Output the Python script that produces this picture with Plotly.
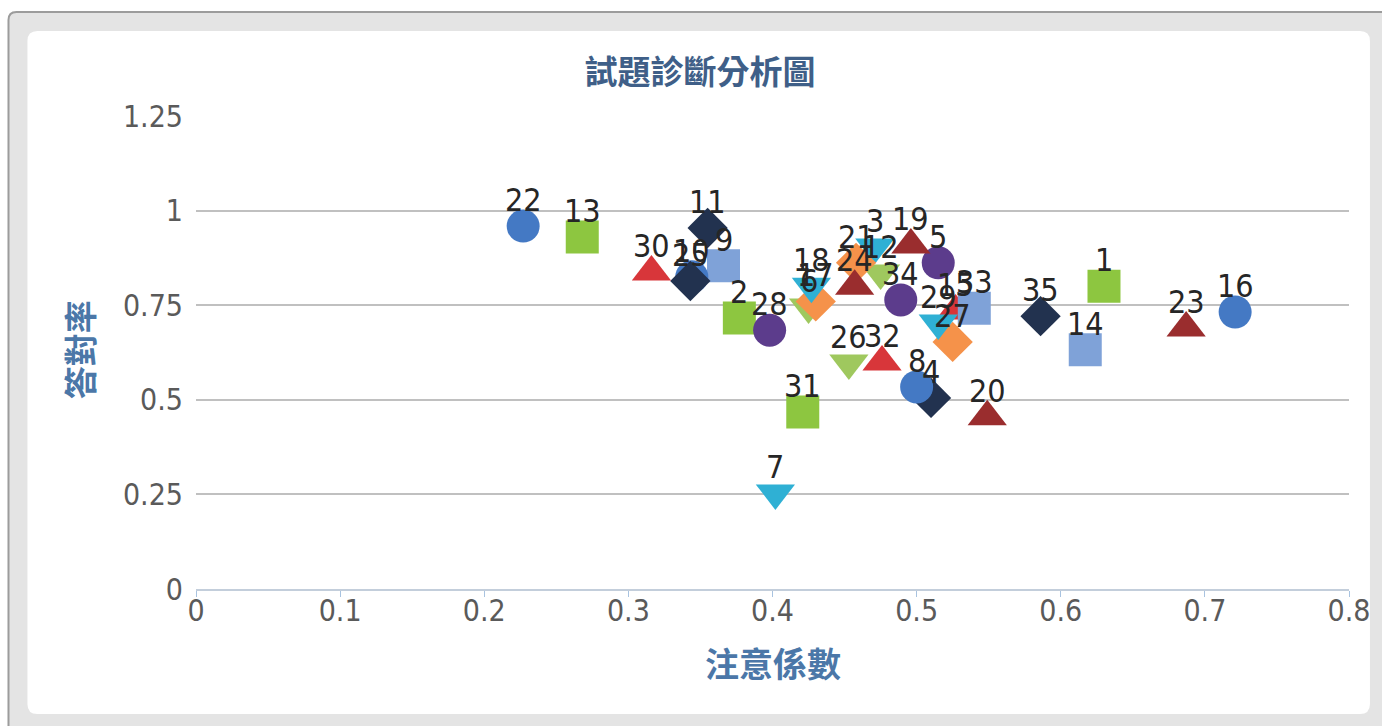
import plotly.graph_objects as go

# ---- data ----
item_no = [1, 2, 3, 4, 5, 6, 7, 8, 9, 10, 11, 12, 13, 14, 15, 16, 17, 18,
           19, 20, 21, 22, 23, 24, 25, 26, 27, 28, 29, 30, 31, 32, 33, 34, 35]
attention = [0.630, 0.377, 0.471, 0.510, 0.515, 0.425, 0.402, 0.500, 0.366, 0.344,
             0.355, 0.475, 0.268, 0.617, 0.527, 0.721, 0.430, 0.427, 0.496, 0.549,
             0.458, 0.227, 0.687, 0.457, 0.343, 0.453, 0.525, 0.398, 0.515, 0.316,
             0.421, 0.476, 0.540, 0.489, 0.586]
correct = [0.800, 0.716, 0.904, 0.505, 0.862, 0.745, 0.254, 0.534, 0.854, 0.825,
           0.954, 0.835, 0.930, 0.632, 0.735, 0.732, 0.760, 0.800, 0.909, 0.455,
           0.862, 0.959, 0.690, 0.800, 0.814, 0.597, 0.653, 0.684, 0.703, 0.838,
           0.468, 0.600, 0.742, 0.764, 0.721]
styles = {
    "blue_circle": ("circle", "#4479C4"),
    "lblue_square": ("square", "#7FA2D8"),
    "green_square": ("square", "#8DC640"),
    "red_tri": ("triangle-up", "#D8363A"),
    "dred_tri": ("triangle-up", "#9A2D2E"),
    "purple_circle": ("circle", "#5C3C8C"),
    "cyan_tri": ("triangle-down", "#2FB0D4"),
    "orange_diamond": ("diamond", "#F5924A"),
    "navy_diamond": ("diamond", "#22324F"),
    "lgreen_tri": ("triangle-down", "#9FC85E"),
}
item_style = ["green_square", "green_square", "cyan_tri", "navy_diamond", "purple_circle",
              "lgreen_tri", "cyan_tri", "blue_circle", "lblue_square", "blue_circle",
              "navy_diamond", "lgreen_tri", "green_square", "lblue_square", "red_tri",
              "blue_circle", "orange_diamond", "cyan_tri", "dred_tri", "dred_tri",
              "orange_diamond", "blue_circle", "dred_tri", "dred_tri", "navy_diamond",
              "lgreen_tri", "orange_diamond", "purple_circle", "cyan_tri", "red_tri",
              "green_square", "red_tri", "lblue_square", "purple_circle", "navy_diamond"]
x_ticks = [0, 0.1, 0.2, 0.3, 0.4, 0.5, 0.6, 0.7, 0.8]
x_tick_text = ["0", "0.1", "0.2", "0.3", "0.4", "0.5", "0.6", "0.7", "0.8"]
y_ticks = [0, 0.25, 0.5, 0.75, 1, 1.25]
y_tick_text = ["0", "0.25", "0.5", "0.75", "1", "1.25"]

W, H = 1382, 726
L, R, T, B = 196, 1352, 116, 589

def px(x):
    return (x - L) / (R - L)

def py(y):
    return (B - y) / (B - T)

numfont = "Liberation Sans Narrow, DejaVu Sans Condensed, sans-serif"
sizes = {"circle": 33, "square": 33, "triangle-up": 34, "triangle-down": 34, "diamond": 31}

fig = go.Figure()
annotations = []
for n, xv, yv, st in zip(item_no, attention, correct, item_style):
    sym, col = styles[st]
    fig.add_trace(go.Scatter(
        x=[xv], y=[yv], mode="markers",
        marker=dict(symbol=sym, size=sizes[sym], color=col, line=dict(width=0)),
        showlegend=False, cliponaxis=False,
    ))
for n, xv, yv in zip(item_no, attention, correct):
    annotations.append(dict(
        x=xv, y=yv, xref="x", yref="y", text=str(n), showarrow=False,
        xanchor="center", yanchor="middle", yshift=26,
        font=dict(family=numfont, size=32, color="#262626")))

tickfont = dict(family=numfont, size=30, color="#5A5A5A")
cjk = "Noto Sans CJK TC, Noto Sans CJK SC, sans-serif"

def rounded(x0, y0, x1, y1, r):
    X0, X1 = px(x0), px(x1)
    Y0, Y1 = py(y0), py(y1)
    rx = r / (R - L)
    ry = r / (B - T)
    return (f"M {X0+rx},{Y0} L {X1-rx},{Y0} Q {X1},{Y0} {X1},{Y0-ry} "
            f"L {X1},{Y1+ry} Q {X1},{Y1} {X1-rx},{Y1} L {X0+rx},{Y1} "
            f"Q {X0},{Y1} {X0},{Y1+ry} L {X0},{Y0-ry} Q {X0},{Y0} {X0+rx},{Y0} Z")

shapes = [
    dict(type="path", xref="paper", yref="paper", layer="below",
         path=rounded(8, 12, 1400, 760, 8), fillcolor="#E4E4E4",
         line=dict(color="#9C9C9C", width=2)),
    dict(type="path", xref="paper", yref="paper", layer="below",
         path=rounded(27, 31, 1373, 714, 10), fillcolor="#FFFFFF",
         line=dict(width=0)),
]

annotations += [
    dict(text="答對率", xref="paper", yref="paper", x=px(79), y=py(350),
         xanchor="center", yanchor="middle", textangle=-90, showarrow=False,
         font=dict(family=cjk, size=33, color="#4B77A8", weight="bold")),
    dict(text="注意係數", xref="paper", yref="paper", x=px(774), y=py(662),
         xanchor="center", yanchor="middle", showarrow=False,
         font=dict(family=cjk, size=34, color="#4B77A8", weight="bold")),
]

fig.update_layout(
    width=W, height=H,
    margin=dict(l=L, r=W - R, t=T, b=H - B),
    paper_bgcolor="#FFFFFF", plot_bgcolor="rgba(0,0,0,0)",
    title=dict(text="試題診斷分析圖", x=700 / W, y=1 - 72 / H, xref="container",
               yref="container", xanchor="center", yanchor="middle",
               font=dict(family=cjk, size=33, color="#3F5F88", weight="bold")),
    xaxis=dict(range=[0, 0.8], tickvals=x_ticks, ticktext=x_tick_text,
               showgrid=False, zeroline=False, showline=True, linecolor="#C3CEDB",
               linewidth=2, ticks="outside", ticklen=6, tickcolor="#A8C3E0",
               tickwidth=1, tickfont=tickfont, ticklabelstandoff=-12),
    yaxis=dict(range=[0, 1.25], tickvals=y_ticks, ticktext=y_tick_text,
               showgrid=True, gridcolor="#C0C0C0", gridwidth=2, zeroline=False,
               showline=False, ticks="", tickfont=tickfont, ticklabelstandoff=12),
    shapes=shapes, annotations=annotations,
)

fig.write_html("out.html", config={"displayModeBar": False},
               post_script="document.body.style.margin='0';document.body.style.overflow='hidden';")
